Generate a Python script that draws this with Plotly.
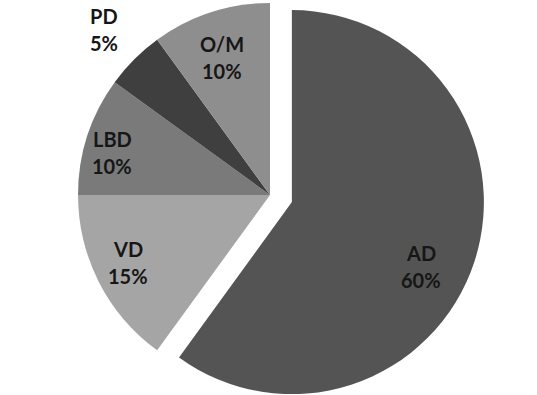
import plotly.graph_objects as go
import numpy as np

# Share of cases by diagnosis
labels = ["AD", "VD", "LBD", "PD", "O/M"]
values = [60, 15, 10, 5, 10]
colors = ["#545454", "#a5a5a5", "#7a7a7a", "#3f3f3f", "#8e8e8e"]

# Label placement: radius as a fraction of the pie radius, and a small
# angular nudge (deg) away from each slice's middle
label_r = [0.75, 0.82, 0.85, 1.22, 0.76]
label_turn = [8.7, 1.6, -2.9, 0.0, -1.0]

W, H = 537, 395
R = 192                 # pie radius, px
CX, CY = 270, 195       # pie centre, px from top-left
PULL_PX = 23            # how far the first slice is pulled out, px
LINE_GAP = 27           # distance between label lines, px

CLEAR = "rgba(0,0,0,0)"


def domain(cx, cy, r):
    clip = lambda v: min(max(v, 0.0), 1.0)
    return dict(x=[clip((cx - r) / W), clip((cx + r) / W)],
                y=[clip(1 - (cy + r) / H), clip(1 - (cy - r) / H)])


total = sum(values)
shares = np.array(values) / total
ends = np.cumsum(shares) * 360
mids = ends - shares * 180          # middle angle of each slice, clockwise from 12 o'clock

# Centre of the pulled-out slice
m0 = np.deg2rad(mids[0])
ax_ = CX + PULL_PX * np.sin(m0)
ay_ = CY - PULL_PX * np.cos(m0)

common = dict(
    labels=labels, values=values, sort=False, direction="clockwise",
    rotation=0, hoverinfo="skip", showlegend=False, textinfo="none",
)

fig = go.Figure()

# Remaining slices, centred
fig.add_trace(go.Pie(
    marker=dict(colors=[CLEAR] + colors[1:], line=dict(width=0)),
    domain=domain(CX, CY, R),
    **common,
))

# Largest slice, pulled outward
fig.add_trace(go.Pie(
    marker=dict(colors=[colors[0]] + [CLEAR] * (len(labels) - 1), line=dict(width=0)),
    domain=domain(ax_, ay_, R),
    **common,
))

# Two-line labels: name and percentage
font = dict(family="Lato, Open Sans, sans-serif", size=20, color="#161616", weight="bold")
for i, (lab, share) in enumerate(zip(labels, shares)):
    cx, cy = (ax_, ay_) if i == 0 else (CX, CY)
    a = np.deg2rad(mids[i] + label_turn[i])
    px = cx + label_r[i] * R * np.sin(a)
    py = cy - label_r[i] * R * np.cos(a)
    for txt, shift in ((lab, LINE_GAP / 2), (f"{share * 100:.0f}%", -LINE_GAP / 2)):
        fig.add_annotation(
            x=px / W, y=1 - py / H, xref="paper", yref="paper",
            text=txt, showarrow=False, xanchor="center", yanchor="middle",
            yshift=shift, font=font,
        )

fig.update_layout(
    width=W, height=H,
    margin=dict(l=0, r=0, t=0, b=0),
    paper_bgcolor="white", plot_bgcolor="white",
)

fig.write_html("out.html")
